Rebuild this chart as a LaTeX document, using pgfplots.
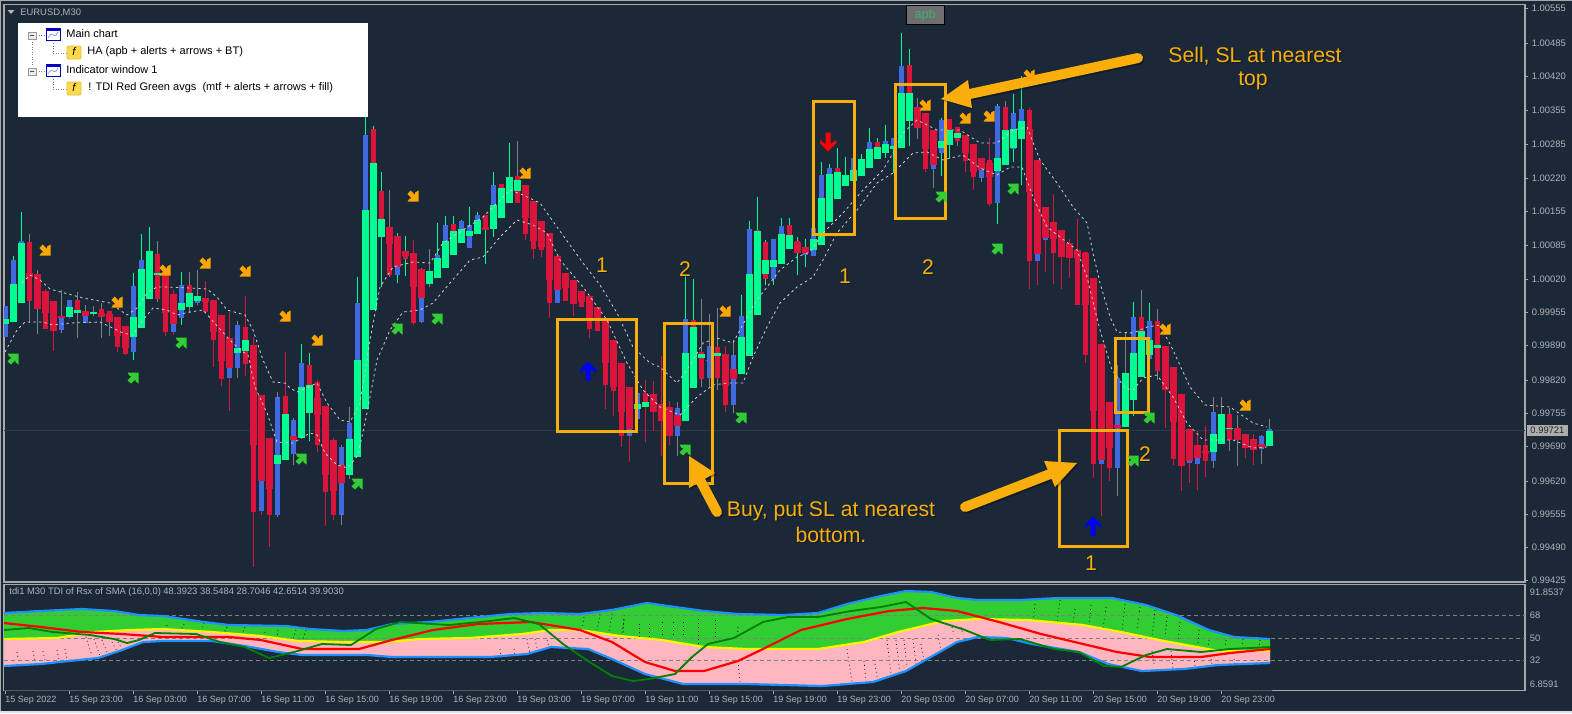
\documentclass[border=0pt]{standalone}
\usepackage{fontspec}
\setmainfont{Liberation Sans}
\usepackage{pgfplots}
\usepackage{pgfplotstable}
\pgfplotsset{compat=1.18}

\definecolor{bgc}{HTML}{1B2838}
\definecolor{framec}{HTML}{A8A8A8}
\definecolor{tickc}{HTML}{B0B4B8}
\definecolor{bullc}{HTML}{00FF90}
\definecolor{bearc}{HTML}{DC143C}
\definecolor{bluec}{HTML}{4169E1}
\definecolor{wickg}{HTML}{808080}
\definecolor{annoc}{HTML}{F9AE0B}
\definecolor{sellc}{HTML}{FFA500}
\definecolor{buyc}{HTML}{32CD32}
\definecolor{bandc}{HTML}{1E90FF}
\definecolor{stopc}{HTML}{D0D0D0}
\definecolor{btnc}{HTML}{6E6E6E}
\definecolor{btnt}{HTML}{3CB371}
\definecolor{pinkc}{HTML}{FFB6C1}

% 1 image pixel = 0.5pt, x and y below are read as image columns and rows
\pgfplotsset{
  mtpanel/.style={
    scale only axis, width=760.5pt, xmin=4, xmax=1525, y dir=reverse,
    axis line style={color=framec, line width=.6pt},
    tick style={color=framec, line width=.4pt},
    tick align=outside, major tick length=1.5pt,
    ytick pos=right, yticklabel pos=right,
    yticklabel style={font=\fontsize{4.7pt}{5pt}\selectfont, text=tickc, inner sep=1.7pt},
    clip=true
  }
}

% arrows of the indicator, drawn with their tip to the lower right / up
\pgfdeclareplotmark{arrse}{
  \pgfpathmoveto{\pgfqpoint{2.75pt}{-2.75pt}}
  \pgfpathlineto{\pgfqpoint{-2.75pt}{-2.75pt}}
  \pgfpathlineto{\pgfqpoint{-1.6pt}{-1.2pt}}
  \pgfpathlineto{\pgfqpoint{-.6pt}{-1.2pt}}
  \pgfpathlineto{\pgfqpoint{-2.75pt}{1pt}}
  \pgfpathlineto{\pgfqpoint{-1.2pt}{2.75pt}}
  \pgfpathlineto{\pgfqpoint{1pt}{.6pt}}
  \pgfpathlineto{\pgfqpoint{1pt}{1.7pt}}
  \pgfpathlineto{\pgfqpoint{2.75pt}{2.75pt}}
  \pgfpathclose\pgfusepathqfill
}
\pgfdeclareplotmark{arrup}{
  \pgfpathmoveto{\pgfqpoint{0pt}{4.75pt}}
  \pgfpathlineto{\pgfqpoint{4pt}{.7pt}}
  \pgfpathlineto{\pgfqpoint{4pt}{-.8pt}}
  \pgfpathlineto{\pgfqpoint{1.25pt}{1pt}}
  \pgfpathlineto{\pgfqpoint{1.25pt}{-4.75pt}}
  \pgfpathlineto{\pgfqpoint{-1.25pt}{-4.75pt}}
  \pgfpathlineto{\pgfqpoint{-1.25pt}{1pt}}
  \pgfpathlineto{\pgfqpoint{-4pt}{-.8pt}}
  \pgfpathlineto{\pgfqpoint{-4pt}{.7pt}}
  \pgfpathclose\pgfusepathqfill
}

% one row per bar: wick, inner body and wide body (top row, bottom row, colour)
% colour codes: 0 grey, 1 red, 2 green, 3 blue
\pgfplotstableread{
i wt wb wc it ib ic ht hb hc
0 306 337 3 306 337 3 319 324 2
1 256 300 2 260 300 3 284 322 2
2 212 303 2 241 300 3 243 303 2
3 234 323 0 242 301 1 273 277 1
4 270 334 0 280 305 1 274 309 1
5 289 329 1 291 329 1 291 313 1
6 301 351 1 301 331 1 301 331 1
7 290 333 0 316 330 3 316 318 1
8 300 319 3 300 317 3 307 317 2
9 292 338 0 300 313 1 310 313 2
10 305 323 0 316 323 3 311 316 1
11 306 316 0 312 314 1 312 314 2
12 303 338 0 309 317 1 313 317 1
13 311 336 0 311 322 1 314 322 1
14 317 352 1 317 347 1 317 336 1
15 326 355 1 326 354 1 326 348 1
16 273 360 2 286 352 3 317 337 2
17 234 328 2 260 328 3 269 328 2
18 227 299 2 251 299 3 251 299 2
19 241 302 0 254 299 1 273 275 2
20 275 336 1 275 332 1 275 313 1
21 290 335 1 324 332 3 294 324 1
22 272 325 2 285 318 3 303 310 2
23 272 313 0 285 293 1 293 307 2
24 270 305 0 301 303 3 296 301 2
25 281 312 1 298 312 1 298 302 1
26 300 367 1 300 340 1 300 332 1
27 315 386 1 315 379 1 315 361 1
28 312 411 1 368 378 3 338 368 1
29 321 378 0 325 368 3 348 353 2
30 296 376 1 327 364 1 340 351 2
31 337 567 1 345 512 1 345 445 1
32 395 515 1 481 511 3 395 481 1
33 438 547 1 438 515 1 438 489 1
34 392 517 0 397 515 3 455 464 2
35 352 460 1 396 460 1 414 460 2
36 418 465 0 420 454 3 436 440 1
37 344 438 2 363 438 3 387 438 2
38 353 441 2 365 413 1 385 413 2
39 380 452 1 382 445 1 398 415 1
40 406 526 1 406 492 1 406 475 1
41 438 520 1 440 515 1 440 491 1
42 445 525 0 447 515 3 465 483 1
43 407 479 0 423 475 3 439 475 2
44 277 457 2 303 457 3 360 457 2
45 117 409 2 135 409 3 210 409 2
46 126 310 2 129 310 1 163 310 2
47 172 287 2 191 237 1 219 237 2
48 190 277 0 227 275 1 227 244 1
49 233 283 2 267 275 3 236 267 1
50 236 276 2 251 259 1 251 256 1
51 240 325 1 253 323 1 253 287 1
52 268 323 0 298 322 3 269 298 1
53 249 287 0 271 284 3 271 284 2
54 223 278 2 255 278 3 258 278 2
55 216 268 2 225 268 3 241 268 2
56 216 255 2 224 255 1 231 255 2
57 220 243 2 221 243 3 229 243 2
58 207 248 2 225 248 3 231 236 2
59 212 234 2 215 234 3 220 234 2
60 215 264 2 215 230 1 227 230 1
61 172 237 2 185 229 3 205 229 2
62 184 218 1 184 218 1 188 218 2
63 143 203 2 177 203 2 177 203 2
64 141 203 0 176 203 1 180 191 2
65 185 240 1 185 234 1 185 218 1
66 201 259 1 201 249 1 201 241 1
67 221 257 1 221 250 1 221 247 1
68 233 318 1 233 303 1 233 280 1
69 256 303 1 290 303 3 256 290 1
70 273 301 1 273 301 1 273 288 1
71 280 316 1 280 304 1 280 304 1
72 291 307 1 291 307 1 291 302 1
73 296 338 1 296 329 1 296 318 1
74 307 331 1 307 331 1 307 318 1
75 320 409 1 320 385 1 320 363 1
76 340 416 1 340 391 1 340 387 1
77 363 447 1 363 436 1 363 412 1
78 387 462 1 429 436 3 387 429 1
79 393 419 3 393 419 3 404 409 2
80 380 442 1 393 407 1 402 407 2
81 381 431 1 394 412 1 394 412 1
82 356 456 1 404 421 1 404 421 1
83 401 445 1 407 436 1 407 436 1
84 402 456 0 408 436 3 415 426 1
85 275 421 2 319 421 3 353 421 2
86 279 388 2 320 388 1 327 388 2
87 299 387 0 352 379 1 354 358 2
88 314 388 0 346 378 3 360 361 3
89 308 390 0 347 378 1 353 356 2
90 346 412 1 354 405 1 354 386 1
91 340 413 0 355 405 3 369 379 1
92 295 374 2 316 374 3 337 374 2
93 221 356 2 229 356 3 274 356 2
94 197 315 2 230 315 1 231 315 2
95 240 285 2 242 279 1 260 274 2
96 239 285 2 239 279 3 260 267 2
97 218 264 2 226 264 3 234 264 2
98 218 249 2 225 249 1 235 249 2
99 237 275 2 241 253 1 242 253 1
100 239 267 2 247 255 3 247 253 1
101 220 256 2 228 256 3 239 250 2
102 162 245 2 175 245 3 198 245 2
103 164 222 2 168 222 3 174 222 2
104 148 199 2 168 199 1 172 199 2
105 157 186 2 175 186 2 175 186 2
106 158 181 0 158 181 3 170 181 2
107 154 176 2 159 176 2 159 176 2
108 128 168 2 142 168 3 149 168 2
109 138 159 2 142 159 1 147 159 2
110 125 158 2 141 153 3 144 153 2
111 138 173 2 138 149 3 146 149 2
112 33 148 2 66 148 3 93 148 2
113 49 146 2 65 121 1 93 121 2
114 98 139 0 107 128 1 107 128 1
115 113 172 1 113 169 1 113 149 1
116 130 188 0 165 169 3 130 165 1
117 118 176 2 120 153 3 141 148 2
118 119 158 2 119 145 1 130 145 2
119 127 146 0 127 141 1 133 138 2
120 135 172 1 135 161 1 135 153 1
121 144 190 1 144 177 1 144 172 1
122 158 182 0 170 178 3 158 170 1
123 138 206 1 160 204 1 163 177 1
124 104 224 2 106 203 3 158 171 2
125 101 165 0 107 165 1 130 165 2
126 94 162 2 113 149 3 129 148 2
127 76 185 2 109 139 3 121 139 2
128 108 289 1 110 261 1 129 192 1
129 160 285 1 254 261 3 160 254 1
130 207 272 1 238 240 3 207 238 1
131 194 284 1 222 253 1 222 239 1
132 230 289 1 230 257 1 230 257 1
133 239 278 1 243 258 1 243 258 1
134 219 305 1 250 305 1 250 258 1
135 252 363 1 252 355 1 253 305 1
136 278 478 1 278 464 1 278 411 1
137 344 516 1 460 464 3 344 460 1
138 402 481 1 402 468 1 402 448 1
139 365 496 0 378 468 3 425 428 1
140 333 427 0 373 427 3 373 427 2
141 302 416 2 317 400 3 353 400 2
142 290 377 0 317 377 1 331 377 2
143 303 378 2 321 359 3 340 355 2
144 309 380 0 321 371 1 345 348 2
145 346 428 1 346 390 1 346 390 1
146 367 465 1 367 459 1 367 422 1
147 394 491 1 394 466 1 394 466 1
148 429 483 1 461 463 3 429 461 1
149 431 490 1 458 464 3 445 458 1
150 426 477 1 445 461 1 451 453 1
151 397 468 0 412 461 3 434 452 2
152 397 444 0 414 444 2 414 444 2
153 408 451 0 414 440 1 428 429 2
154 415 466 0 428 440 1 428 440 1
155 434 458 1 434 448 1 434 448 1
156 434 465 1 439 450 1 439 450 1
157 435 464 0 436 449 3 444 447 1
158 419 446 0 429 446 3 431 446 2
}\candles

\pgfplotstableread{
x y
22 283
30 275
40 280
50 289
83 298
110 303
127 315
137 308
147 293
157 287
167 287
190 288
207 289
217 297
227 310
245 315
253 330
263 360
273 382
285 383
290 388
297 392
317 383
327 403
340 420
350 422
360 403
370 340
380 287
393 267
413 262
430 263
443 243
483 217
497 203
510 190
523 195
540 203
557 227
583 263
600 285
617 313
633 347
650 363
660 367
677 383
687 370
703 343
717 338
733 343
747 317
757 300
780 270
797 257
810 252
823 233
843 213
863 190
883 170
893 153
903 133
917 120
937 130
960 130
980 143
997 143
1013 130
1027 127
1040 160
1057 183
1073 207
1087 223
1093 253
1100 283
1110 317
1117 332
1133 333
1147 327
1160 325
1173 350
1190 387
1205 405
1230 407
1253 423
1267 427
}\stopup

\pgfplotstableread{
x y
5 352
17 330
25 322
43 322
53 325
70 323
100 322
123 333
133 335
143 320
153 308
167 310
177 315
190 312
203 310
227 337
240 350
248 355
255 387
267 413
277 442
293 443
310 433
317 435
325 453
337 465
348 468
358 455
367 413
377 360
390 330
403 312
420 310
433 303
450 283
470 260
483 257
500 237
517 220
533 225
547 233
560 260
583 287
607 320
627 363
643 390
660 407
680 415
697 397
713 385
727 383
743 383
753 357
767 327
780 303
797 287
813 277
823 260
837 233
857 210
877 183
893 173
913 153
927 152
943 160
963 155
980 168
997 175
1010 167
1022 167
1033 197
1047 227
1077 250
1087 277
1095 310
1100 330
1112 370
1125 388
1133 390
1143 378
1157 375
1173 397
1187 423
1203 440
1233 440
1253 448
1267 447
}\stopdn

\pgfplotstableread{
x y
45 250
165 270
205 263
245 271
413 196
117 302
285 316
317 340
525 173
725 311
925 105
965 118
989 116
1029 75
1165 329
1245 405
}\sellmarks

\pgfplotstableread{
x y
13 359
133 378
181 343
301 459
357 484
397 329
437 319
685 450
741 418
941 197
1013 189
997 249
1149 418
1133 461
}\buymarks

% indicator window
\pgfplotstableread{
x y
4 613
41 611
82 609
114 611
139 615
163 616
204 622
229 625
286 626
310 629
343 631
367 630
392 624
429 622
469 618
510 614
543 613
580 614
612 610
647 603
675 607
704 611
738 614
784 615
818 613
847 604
881 596
906 591
931 592
957 598
978 600
1020 600
1058 598
1112 598
1146 605
1176 615
1209 630
1234 637
1270 639
}\bandtop

\pgfplotstableread{
x y
4 639
57 638
94 632
131 630
163 629
212 632
261 636
298 641
347 642
388 642
420 639
469 638
522 634
551 630
580 630
620 636
662 640
704 647
746 649
818 649
864 642
898 632
944 621
978 619
1028 620
1083 625
1121 632
1159 640
1197 647
1218 651
1270 651
}\bandmid

\pgfplotstableread{
x y
4 666
41 664
69 661
98 658
122 650
143 642
163 641
212 641
245 646
278 652
302 655
367 655
392 657
490 657
527 654
551 647
588 649
612 659
645 674
683 684
746 684
822 686
873 682
906 671
936 654
957 642
978 637
1007 638
1032 644
1079 652
1108 664
1142 671
1184 669
1218 665
1270 663
}\bandlow

\pgfplotstableread{
x y
4 623
41 627
82 632
122 634
163 637
229 637
261 640
302 649
359 649
392 640
433 630
478 624
531 622
580 630
612 642
645 662
675 671
704 671
738 661
763 649
801 630
847 619
889 611
923 608
957 611
999 622
1041 634
1083 644
1117 652
1150 657
1201 657
1230 653
1270 649
}\redavg

\pgfplotstableread{
x y
4 630
29 628
53 632
90 635
114 639
127 643
139 640
155 633
196 634
220 642
245 647
269 658
294 652
322 644
351 645
376 629
400 622
449 625
490 621
514 618
539 624
563 644
588 661
612 676
633 681
649 679
675 674
692 657
708 644
734 638
763 622
788 617
818 617
851 611
881 607
906 602
931 619
965 630
990 640
1020 639
1054 649
1079 652
1104 666
1121 667
1146 655
1167 649
1201 652
1230 649
1270 647
}\greenavg

% black fill artefacts of the indicator: column, top, bottom, lean
\pgfplotstableread{
x t b u
17 652 662 2
33 651 661 2
43 651 660 2
57 650 660 2
65 649 659 2
86 637 656 6
94 639 656 6
102 640 652 5
112 642 651 5
118 642 649 4
167 625 630 -2
184 624 630 -3
204 623 630 -3
227 627 633 -3
245 627 634 -3
265 632 637 -1
278 630 637 -1
296 630 639 -3
306 630 639 -3
500 649 656 1
514 649 656 1
527 639 654 3
535 639 652 3
547 640 649 3
584 617 629 -2
600 614 630 -3
612 614 632 -3
624 620 634 -2
624 615 634 -1
639 624 637 0
649 624 637 0
662 622 637 0
673 622 637 0
683 622 642 0
698 619 644 0
715 620 640 0
738 627 639 -1
738 661 682 2
847 649 682 5
864 661 681 2
875 664 677 2
887 640 674 4
896 640 674 4
904 640 667 3
913 639 664 3
921 644 661 3
938 635 651 3
952 627 635 2
961 627 635 2
1035 604 619 -2
1060 600 622 -3
1075 609 622 -2
1091 605 625 -2
1106 607 629 -3
1125 604 630 -3
1140 607 630 -3
1155 610 637 -3
1167 617 637 -2
1180 622 642 -2
1199 630 644 -1
1209 640 647 -1
1226 640 647 -1
1243 639 645 -1
1260 640 647 -1
1152 651 664 2
1171 651 669 2
1194 657 666 1
1211 659 664 1
1234 659 664 1
}\hatch

% one bar layer is drawn as vertical quiver segments, keeping one colour code
\newcommand{\candlelayer}[5]{%
  \addplot[forget plot, mark=none, #5, quiver={u=0, v=\thisrow{#2}-\thisrow{#1}}]
    table[x expr={\thisrow{#3}==#4 ? 5.3+8*\thisrow{i} : nan}, y=#1] {\candles};
}
\newcommand{\annotext}[3]{%
  \node[text=black, opacity=.35, font=\fontsize{#3}{#3}\selectfont, inner sep=0pt, xshift=.6pt, yshift=-.6pt] at (axis cs:#1) {#2};
  \node[text=annoc, font=\fontsize{#3}{#3}\selectfont, inner sep=0pt] at (axis cs:#1) {#2};}
\newcommand{\bigarrow}[5]{%
  \draw[black, opacity=.3, line width=5pt, line cap=round, transform canvas={xshift=.8pt,yshift=-.8pt}] (axis cs:#1) -- (axis cs:#2);
  \fill[black, opacity=.3, transform canvas={xshift=.8pt,yshift=-.8pt}] (axis cs:#3) -- (axis cs:#4) -- (axis cs:#5) -- cycle;
  \draw[annoc, line width=5pt, line cap=round] (axis cs:#1) -- (axis cs:#2);
  \fill[annoc] (axis cs:#3) -- (axis cs:#4) -- (axis cs:#5) -- cycle;}

\begin{document}
\begin{tikzpicture}[x=1pt,y=1pt]
\path[use as bounding box] (0,0) rectangle (786,356.5);
\fill[bgc] (0,0) rectangle (786,356.5);
\draw[framec, line width=.5pt] (.25,0) -- (.25,356.25) -- (786,356.25);
\fill[black!12] (0,0) rectangle (786,.9);

\begin{axis}[mtpanel, at={(2pt,354.25pt)}, anchor=north west, height=288.75pt,
    ymin=4.5, ymax=582, xtick=\empty,
    ytick={8,43,76.5,110,144,178,211,245.6,279,312,345,380,413,446,481,514,547,580},
    yticklabels={1.00555,1.00485,1.00420,1.00355,1.00285,1.00220,1.00155,1.00085,1.00020,0.99955,0.99890,0.99820,0.99755,0.99690,0.99620,0.99555,0.99490,0.99425}]

  \addplot[forget plot, color=bgc!92!white, line width=.5pt] coordinates {(4,430) (1525,430)};

  % wicks
  \candlelayer{wt}{wb}{wc}{0}{wickg, line width=.5pt}
  \candlelayer{wt}{wb}{wc}{1}{bearc, line width=.5pt}
  \candlelayer{wt}{wb}{wc}{2}{bullc, line width=.5pt}
  \candlelayer{wt}{wb}{wc}{3}{bluec, line width=.5pt}
  % inner bodies
  \candlelayer{it}{ib}{ic}{1}{bearc, line width=2.75pt}
  \candlelayer{it}{ib}{ic}{2}{bullc, line width=2.75pt}
  \candlelayer{it}{ib}{ic}{3}{bluec, line width=2.75pt}
  % wide bodies
  \candlelayer{ht}{hb}{hc}{1}{bearc, line width=3.75pt}
  \candlelayer{ht}{hb}{hc}{2}{bullc, line width=3.75pt}
  \candlelayer{ht}{hb}{hc}{3}{bluec, line width=3.75pt}

  % stop lines
  \addplot[forget plot, mark=none, color=stopc, line width=.4pt, dash pattern=on 1.2pt off 1.6pt] table[x=x,y=y] {\stopup};
  \addplot[forget plot, mark=none, color=stopc, line width=.4pt, dash pattern=on 1.2pt off 1.6pt] table[x=x,y=y] {\stopdn};

  % signal arrows
  \addplot[forget plot, only marks, mark=arrse, mark options={draw=none, fill=sellc}] table[x=x,y=y] {\sellmarks};
  \addplot[forget plot, only marks, mark=arrse, mark options={draw=none, fill=buyc, rotate=90}] table[x=x,y=y] {\buymarks};
  \addplot[forget plot, only marks, mark=arrup, mark options={draw=none, fill=blue}] coordinates {(588,371) (1093,526)};
  \addplot[forget plot, only marks, mark=arrup, mark options={draw=none, fill=red, rotate=180}] coordinates {(828,142)};

  % hand drawn boxes and arrows
  \draw[annoc, line width=1.5pt] (axis cs:557.5,319) rectangle (axis cs:636.5,431);
  \draw[annoc, line width=1.5pt] (axis cs:664,323) rectangle (axis cs:712,483);
  \draw[annoc, line width=1.5pt] (axis cs:813,101) rectangle (axis cs:854,234);
  \draw[annoc, line width=1.5pt] (axis cs:895,84) rectangle (axis cs:945,218);
  \draw[annoc, line width=1.5pt] (axis cs:1059,430) rectangle (axis cs:1127,546);
  \draw[annoc, line width=1.5pt] (axis cs:1115,338) rectangle (axis cs:1148,412);
  \bigarrow{1138,58}{965,95}{941,99}{968,80}{972,108}
  \bigarrow{717,512}{699,478}{689,456}{715,473}{689,488}
  \bigarrow{965,507}{1050,474}{1077,463}{1044,461}{1055,487}

  \annotext{1255,56}{Sell, SL at nearest}{10.6pt}
  \annotext{1253,81}{top}{10.6pt}
  \annotext{831,511}{Buy, put SL at nearest}{10.6pt}
  \annotext{831,535}{bottom.}{10.6pt}
  \annotext{602,265}{1}{10.6pt}
  \annotext{685,269}{2}{10.6pt}
  \annotext{845,276}{1}{10.6pt}
  \annotext{928,267}{2}{10.6pt}
  \annotext{1145,454}{2}{10.6pt}
  \annotext{1091,563}{1}{10.6pt}

  % chart title and template button
  \fill[tickc] (axis cs:7.5,10) -- (axis cs:14.5,10) -- (axis cs:11,14) -- cycle;
  \node[anchor=west, text=tickc, inner sep=0pt, font=\fontsize{4.7pt}{5pt}\selectfont] at (axis cs:20,12.5) {EURUSD,M30};
  \draw[black, fill=btnc, line width=.4pt] (axis cs:906,5.5) rectangle (axis cs:944,24);
  \node[text=btnt, inner sep=0pt, font=\fontsize{6.3pt}{6pt}\selectfont] at (axis cs:925,15) {apb};

  % object list
  \fill[white] (axis cs:18,23) rectangle (axis cs:368,117);
  \draw[black!50, line width=.25pt, densely dotted] (axis cs:32,39) -- (axis cs:32,66);
  \draw[black!50, line width=.25pt, densely dotted] (axis cs:36,35) -- (axis cs:45,35);
  \draw[black!50, line width=.25pt, densely dotted] (axis cs:36,71) -- (axis cs:45,71);
  \draw[black!50, line width=.25pt, densely dotted] (axis cs:53,43) -- (axis cs:53,53) -- (axis cs:66,53);
  \draw[black!50, line width=.25pt, densely dotted] (axis cs:53,79) -- (axis cs:53,89) -- (axis cs:66,89);
  \draw[black!40, fill=black!8, line width=.35pt] (axis cs:28,32) rectangle (axis cs:36,39);
  \draw[black!70, line width=.35pt] (axis cs:30,35.5) -- (axis cs:34,35.5);
  \draw[black!40, fill=black!8, line width=.35pt] (axis cs:28,68) rectangle (axis cs:36,75);
  \draw[black!70, line width=.35pt] (axis cs:30,71.5) -- (axis cs:34,71.5);
  \draw[blue!75!black, fill=white, line width=.5pt] (axis cs:46,28) rectangle (axis cs:60,40);
  \fill[blue!75!black] (axis cs:46,28) rectangle (axis cs:60,30.5);
  \draw[blue!40, line width=.4pt] (axis cs:48,38) .. controls (axis cs:53,28) and (axis cs:53,42) .. (axis cs:58,32);
  \draw[blue!75!black, fill=white, line width=.5pt] (axis cs:46,64) rectangle (axis cs:60,76);
  \fill[blue!75!black] (axis cs:46,64) rectangle (axis cs:60,66.5);
  \draw[blue!40, line width=.4pt] (axis cs:48,74) .. controls (axis cs:53,64) and (axis cs:53,78) .. (axis cs:58,68);
  \draw[yellow!50!brown, fill=yellow!65!orange!70!white, rounded corners=.6pt, line width=.4pt] (axis cs:67,46) rectangle (axis cs:81,59);
  \node[inner sep=0pt, font=\fontsize{5.5pt}{5pt}\itshape] at (axis cs:74,52) {f};
  \draw[yellow!50!brown, fill=yellow!65!orange!70!white, rounded corners=.6pt, line width=.4pt] (axis cs:67,82) rectangle (axis cs:81,95);
  \node[inner sep=0pt, font=\fontsize{5.5pt}{5pt}\itshape] at (axis cs:74,88) {f};
  \node[anchor=west, inner sep=0pt, font=\fontsize{5.5pt}{5pt}\selectfont] at (axis cs:66,34) {Main chart};
  \node[anchor=west, inner sep=0pt, font=\fontsize{5.5pt}{5pt}\selectfont] at (axis cs:87,52) {HA (apb + alerts + arrows + BT)};
  \node[anchor=west, inner sep=0pt, font=\fontsize{5.5pt}{5pt}\selectfont] at (axis cs:66,70) {Indicator window 1};
  \node[anchor=west, inner sep=0pt, font=\fontsize{5.5pt}{5pt}\selectfont] at (axis cs:88,88) {! TDI Red Green avgs\ \ (mtf + alerts + arrows + fill)};
\end{axis}

% last price tag
\fill[black!32] (763.5,138.5) rectangle (784,144.2);
\node[inner sep=0pt, text=black!85, font=\fontsize{4.7pt}{5pt}\selectfont] at (773.7,141.4) {0.99721};

\begin{axis}[mtpanel, at={(2pt,64.25pt)}, anchor=north west, height=53pt,
    ymin=584.5, ymax=690.5,
    xtick={5,69,...,1221},
    xticklabels={15 Sep 2022,15 Sep 23:00,16 Sep 03:00,16 Sep 07:00,16 Sep 11:00,16 Sep 15:00,16 Sep 19:00,16 Sep 23:00,19 Sep 03:00,19 Sep 07:00,19 Sep 11:00,19 Sep 15:00,19 Sep 19:00,19 Sep 23:00,20 Sep 03:00,20 Sep 07:00,20 Sep 11:00,20 Sep 15:00,20 Sep 19:00,20 Sep 23:00},
    xtick pos=bottom, xticklabel pos=bottom,
    xticklabel style={anchor=north west, inner sep=0pt, yshift=-1pt, text=tickc, font=\fontsize{4.5pt}{5pt}\selectfont},
    ytick={592,615,638,660,684},
    yticklabels={91.8537,68,50,32,6.8591},
    ytick style={draw=none},
    yticklabel style={xshift=-1pt}]

  % bands are painted from the top curve down, each over the previous one
  \addplot[forget plot, mark=none, draw=none, fill=buyc] table[x=x,y=y] {\bandtop} -- (axis cs:1270,690.5) -- (axis cs:4,690.5) -- cycle;
  \addplot[forget plot, mark=none, draw=none, fill=pinkc] table[x=x,y=y] {\bandmid} -- (axis cs:1270,690.5) -- (axis cs:4,690.5) -- cycle;
  \addplot[forget plot, mark=none, draw=none, fill=bgc] table[x=x,y=y] {\bandlow} -- (axis cs:1272,663) -- (axis cs:1272,690.5) -- (axis cs:4,690.5) -- cycle;

  \addplot[forget plot, mark=none, color=black, line width=.35pt, dash pattern=on .4pt off 1.6pt, quiver={u=\thisrow{u}, v=\thisrow{b}-\thisrow{t}}] table[x=x,y=t] {\hatch};

  \addplot[forget plot, color=gray, line width=.4pt, dash pattern=on 2pt off 1.5pt] coordinates {(4,615) (1525,615)};
  \addplot[forget plot, color=gray, line width=.4pt, dash pattern=on 2pt off 1.5pt] coordinates {(4,638) (1525,638)};
  \addplot[forget plot, color=gray, line width=.4pt, dash pattern=on 2pt off 1.5pt] coordinates {(4,660) (1525,660)};

  \addplot[forget plot, mark=none, color=bandc, line width=1.1pt] table[x=x,y=y] {\bandtop};
  \addplot[forget plot, mark=none, color=bandc, line width=1.1pt] table[x=x,y=y] {\bandlow};
  \addplot[forget plot, mark=none, color=yellow, line width=1.1pt] table[x=x,y=y] {\bandmid};
  \addplot[forget plot, mark=none, color=red, line width=1.1pt] table[x=x,y=y] {\redavg};
  \addplot[forget plot, mark=none, color=green!50!black, line width=.9pt] table[x=x,y=y] {\greenavg};

  \node[anchor=west, inner sep=0pt, text=tickc, font=\fontsize{4.7pt}{5pt}\selectfont] at (axis cs:9,592) {tdi1 M30 TDI of Rsx of SMA (16,0,0) 48.3923 38.5484 28.7046 42.6514 39.9030};
\end{axis}
\end{tikzpicture}
\end{document}
